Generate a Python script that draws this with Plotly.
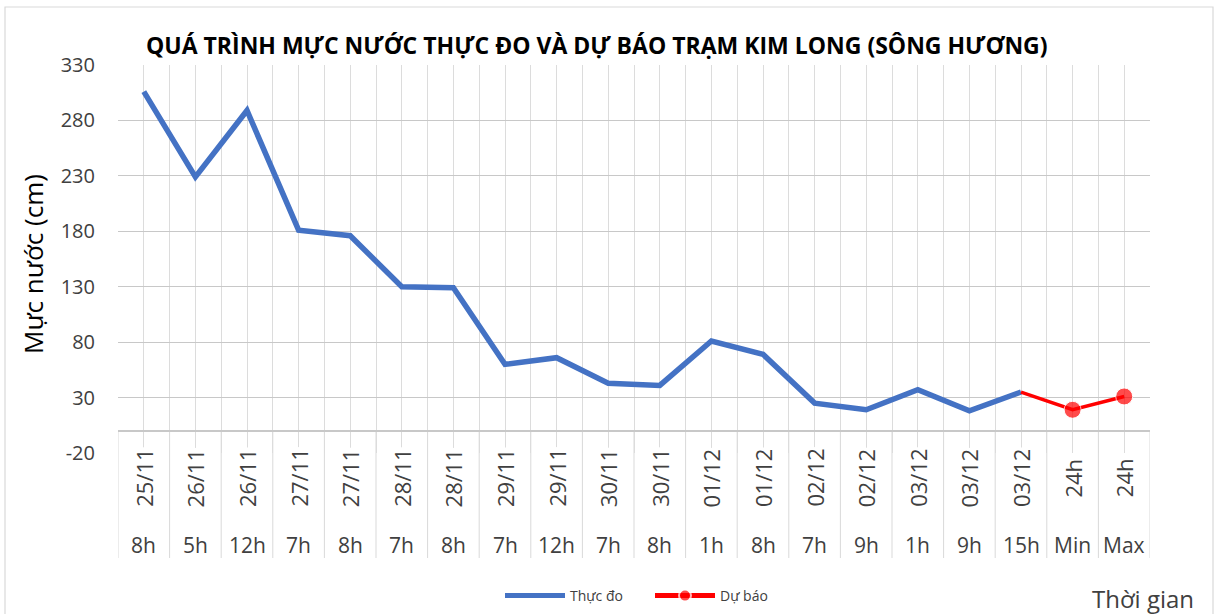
import plotly.graph_objects as go

# ---- data ----
dates = ["25/11", "26/11", "26/11", "27/11", "27/11", "28/11", "28/11", "29/11", "29/11",
         "30/11", "30/11", "01/12", "01/12", "02/12", "02/12", "03/12", "03/12", "03/12",
         "24h", "24h"]
hours = ["8h", "5h", "12h", "7h", "8h", "7h", "8h", "7h", "12h", "7h", "8h", "1h", "8h",
         "7h", "9h", "1h", "9h", "15h", "Min", "Max"]
observed = [306, 229, 289, 181, 176, 130, 129, 60, 66, 43, 41, 81, 69, 25, 19, 37, 18, 35]
forecast = [35, 19, 31]          # last observed, Min, Max
forecast_start = 17
y_ticks = [-20, 30, 80, 130, 180, 230, 280, 330]
y_tick_text = ["-20", "30", "80", "130", "180", "230", "280", "330"]

W, H = 1217, 614
L, R, T, B = 118, 1150, 65, 453   # plot area in pixels


def px(p):
    return (p - L) / (R - L)


def py(p):
    return (B - p) / (B - T)


n = len(hours)
xi = list(range(n))
FONT = "Open Sans"

fig = go.Figure()
fig.add_trace(go.Scatter(
    x=xi[:len(observed)], y=observed, mode="lines", name="Thực đo",
    line=dict(color="#4472C4", width=5.5), hoverinfo="skip"))
fx = xi[forecast_start:forecast_start + len(forecast)]
fig.add_trace(go.Scatter(
    x=fx, y=forecast, mode="lines+markers", name="Dự báo",
    line=dict(color="#FF0000", width=3.5),
    marker=dict(color="#FF0000", size=[0] + [17] * (len(forecast) - 1)),
    hoverinfo="skip"))

shapes = []
# category separators extending through the label area
for k in range(n + 1):
    shapes.append(dict(type="line", xref="x", yref="paper",
                       x0=k - 0.5, x1=k - 0.5, y0=20 / 350, y1=py(558),
                       line=dict(color="#D9D9D9", width=1), layer="below"))
# outer chart border
shapes.append(dict(type="rect", xref="paper", yref="paper",
                   x0=px(5), x1=px(1213), y0=py(640), y1=py(7),
                   line=dict(color="#D9D9D9", width=1.2), layer="below"))

annotations = []
for i in range(n):
    annotations.append(dict(x=i, y=py(478), xref="x", yref="paper", text=dates[i],
                            textangle=-90, showarrow=False, bgcolor="white",
                            xanchor="center", yanchor="middle",
                            font=dict(family=FONT, size=22, color="#404040")))
    annotations.append(dict(x=i, y=py(545), xref="x", yref="paper", text=hours[i],
                            showarrow=False, xanchor="center", yanchor="middle",
                            font=dict(family=FONT, size=21, color="#404040")))
annotations.append(dict(x=px(597), y=py(45), xref="paper", yref="paper",
                        text="<b>QUÁ TRÌNH MỰC NƯỚC THỰC ĐO VÀ DỰ BÁO TRẠM KIM LONG (SÔNG HƯƠNG)</b>",
                        showarrow=False, xanchor="center", yanchor="middle",
                        font=dict(family=FONT, size=23, color="#000000")))
annotations.append(dict(x=px(33), y=py(264), xref="paper", yref="paper",
                        text="Mực nước (cm)", textangle=-90, showarrow=False,
                        xanchor="center", yanchor="middle",
                        font=dict(family=FONT, size=26, color="#000000")))
annotations.append(dict(x=px(1143), y=py(598), xref="paper", yref="paper",
                        text="Thời gian", showarrow=False, xanchor="center", yanchor="middle",
                        font=dict(family=FONT, size=24, color="#404040")))

fig.update_layout(
    width=W, height=H,
    margin=dict(l=L, r=W - R, t=T, b=H - B, pad=0, autoexpand=False),
    paper_bgcolor="white", plot_bgcolor="white",
    showlegend=True,
    legend=dict(orientation="h", x=px(500), y=py(596), xanchor="left", yanchor="middle",
                font=dict(family=FONT, size=14, color="#404040"),
                itemwidth=60, itemsizing="constant", entrywidth=75,
                bgcolor="rgba(0,0,0,0)"),
    shapes=shapes, annotations=annotations,
)
fig.update_xaxes(range=[-0.5, n - 0.5], tick0=-0.5, dtick=0.5, showgrid=True,
                 gridcolor="#DCDCDC", gridwidth=1, showticklabels=False, ticks="",
                 zeroline=False, showline=False, fixedrange=True)
fig.update_yaxes(range=[y_ticks[0], y_ticks[-1]], tickvals=y_ticks, ticktext=y_tick_text,
                 showgrid=True, gridcolor="#C8C8C8", gridwidth=1, zeroline=True,
                 zerolinecolor="#C8C8C8", zerolinewidth=1.5, showline=False, ticks="",
                 ticklabelstandoff=22,
                 tickfont=dict(family=FONT, size=20, color="#404040"), fixedrange=True)

fig.write_html("out.html", config={"displayModeBar": False},
               post_script="document.body.style.margin='0';")
